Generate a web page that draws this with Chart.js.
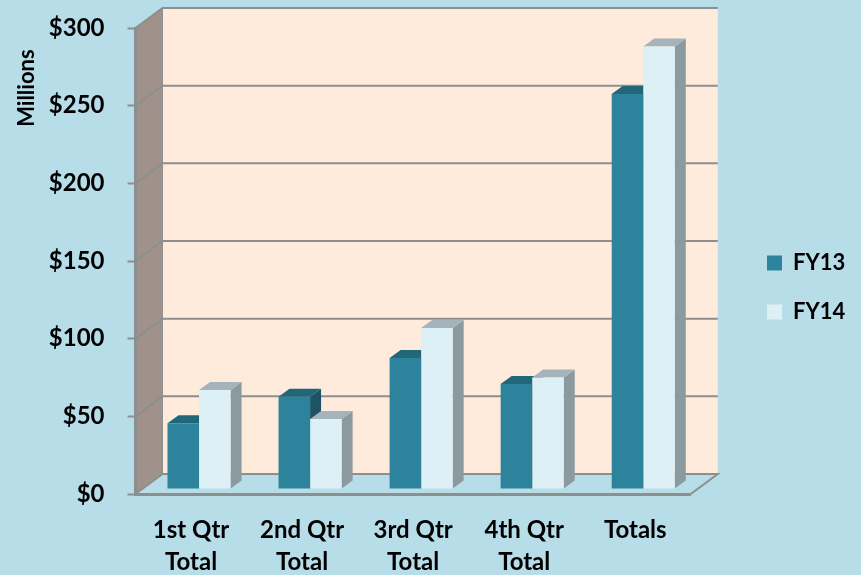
<!DOCTYPE html>
<html>
<head>
<meta charset="utf-8">
<script src="https://cdn.jsdelivr.net/npm/chart.js@4"></script>
<style>
  html, body { margin: 0; padding: 0; background: #b7dde8; }
  canvas { display: block; }
</style>
</head>
<body>
<canvas id="chart" width="861" height="575"></canvas>
<script>
const categories = [["1st Qtr", "Total"], ["2nd Qtr", "Total"], ["3rd Qtr", "Total"], ["4th Qtr", "Total"], "Totals"];
const fy13 = [42.3, 59.4, 84.4, 67.6, 254.3];
const fy14 = [63.7, 45, 103.7, 71.8, 284.8];
const yTicks = [0, 50, 100, 150, 200, 250, 300];

const GREY = "#8c8f90";
const WALL_DX = 27, WALL_DY = -20;    // back wall offset from the front plane
const BAR_DX = 8, BAR_DY = -5;        // bars stand a bit inside the floor
const DEPTH_X = 11, DEPTH_Y = -8;     // depth of the bars themselves

const faceColors = [
    { top: "#22667a", side: "#1d5465" },
    { top: "#a5b4ba", side: "#8a9a9f" }
];

function poly(ctx, pts, fill) {
    ctx.beginPath();
    pts.forEach((p, i) => i ? ctx.lineTo(p[0], p[1]) : ctx.moveTo(p[0], p[1]));
    ctx.closePath();
    ctx.fillStyle = fill;
    ctx.fill();
}

// ---------- WALLS ----------
const wallsPlugin = {
    id: "walls",
    beforeDraw(chart) {
        const { ctx, chartArea: a, scales } = chart;
        const bx = WALL_DX, by = WALL_DY;
        poly(ctx, [[a.left, a.top], [a.left + bx, a.top + by], [a.left + bx, a.bottom + by], [a.left, a.bottom]], "#a0928a");
        poly(ctx, [[a.left + bx, a.top + by], [a.right + bx, a.top + by], [a.right + bx, a.bottom + by], [a.left + bx, a.bottom + by]], "#ffebdc");

        ctx.save();
        ctx.strokeStyle = GREY;
        ctx.lineWidth = 2;
        yTicks.forEach(v => {
            const y = scales.y.getPixelForValue(v);
            ctx.beginPath();
            ctx.moveTo(a.left, y);
            ctx.lineTo(a.left + bx, y + by);
            ctx.lineTo(a.right + bx, y + by);
            if (v === 0) ctx.lineTo(a.right, y);
            ctx.stroke();
        });
        ctx.beginPath();
        ctx.moveTo(a.left + bx, a.top + by);
        ctx.lineTo(a.left + bx, a.bottom + by);
        ctx.lineWidth = 1;
        ctx.stroke();
        ctx.restore();
    },
    afterLayout(chart) {
        // legend sits away from the plot, keep it there
        const lg = chart.legend;
        lg.left = 767 - lg.options.labels.padding;
        lg.right = 861;
        lg.top -= 14;
        lg.bottom -= 14;
    }
};

// ---------- BAR DEPTH ----------
const barDepthPlugin = {
    id: "barDepth",
    beforeDatasetsDraw(chart) {
        const { ctx } = chart;
        ctx.save();
        ctx.translate(BAR_DX, BAR_DY);
        chart.data.datasets.forEach((ds, d) => {
            chart.getDatasetMeta(d).data.forEach(el => {
                const l = el.x - el.width / 2, r = el.x + el.width / 2;
                poly(ctx, [[r, el.y], [r + DEPTH_X, el.y + DEPTH_Y], [r + DEPTH_X, el.base + DEPTH_Y], [r, el.base]], faceColors[d].side);
                poly(ctx, [[l, el.y], [l + DEPTH_X, el.y + DEPTH_Y], [r + DEPTH_X, el.y + DEPTH_Y], [r, el.y]], faceColors[d].top);
            });
        });
    },
    afterDatasetsDraw(chart) {
        chart.ctx.restore();
    }
};

new Chart(document.getElementById("chart"), {
    type: "bar",
    data: {
        labels: categories,
        datasets: [
            { label: "FY13", data: fy13, backgroundColor: "#2e839c", clip: false },
            { label: "FY14", data: fy14, backgroundColor: "#ddf0f6", clip: false }
        ]
    },
    options: {
        responsive: false,
        animation: false,
        categoryPercentage: 0.568,
        barPercentage: 1,
        layout: { padding: { left: 0, top: 28, right: 55, bottom: 0 } },
        plugins: {
            tooltip: { enabled: false },
            legend: {
                position: "right",
                labels: {
                    color: "#000",
                    boxWidth: 15,
                    boxHeight: 15,
                    padding: 27,
                    font: { family: "Lato", weight: "bold", size: 22 }
                }
            }
        },
        scales: {
            x: {
                afterFit(s) { s.height = 81; s.paddingLeft = 0; s.paddingRight = 0; },
                grid: { display: false, drawTicks: false },
                border: { display: true, color: GREY, width: 3 },
                ticks: {
                    color: "#000",
                    padding: 20,
                    maxRotation: 0,
                    autoSkip: false,
                    font: { family: "Lato", weight: "bold", size: 24, lineHeight: 1.33 }
                }
            },
            y: {
                min: 0,
                max: 300,
                afterFit(s) { s.width = 135.5; s.paddingTop = 0; s.paddingBottom = 0; },
                grid: { drawOnChartArea: false, tickLength: 8, tickColor: GREY, tickWidth: 2 },
                border: { display: true, color: GREY, width: 3 },
                title: {
                    display: true,
                    text: "Millions    ",
                    align: "end",
                    color: "#000",
                    padding: { top: 14, bottom: 0 },
                    font: { family: "Lato", weight: "bold", size: 22 }
                },
                ticks: {
                    color: "#000",
                    padding: 23,
                    stepSize: 50,
                    callback: v => "$" + v,
                    font: { family: "Lato", weight: "bold", size: 24 }
                }
            }
        }
    },
    plugins: [wallsPlugin, barDepthPlugin]
});
</script>
</body>
</html>
